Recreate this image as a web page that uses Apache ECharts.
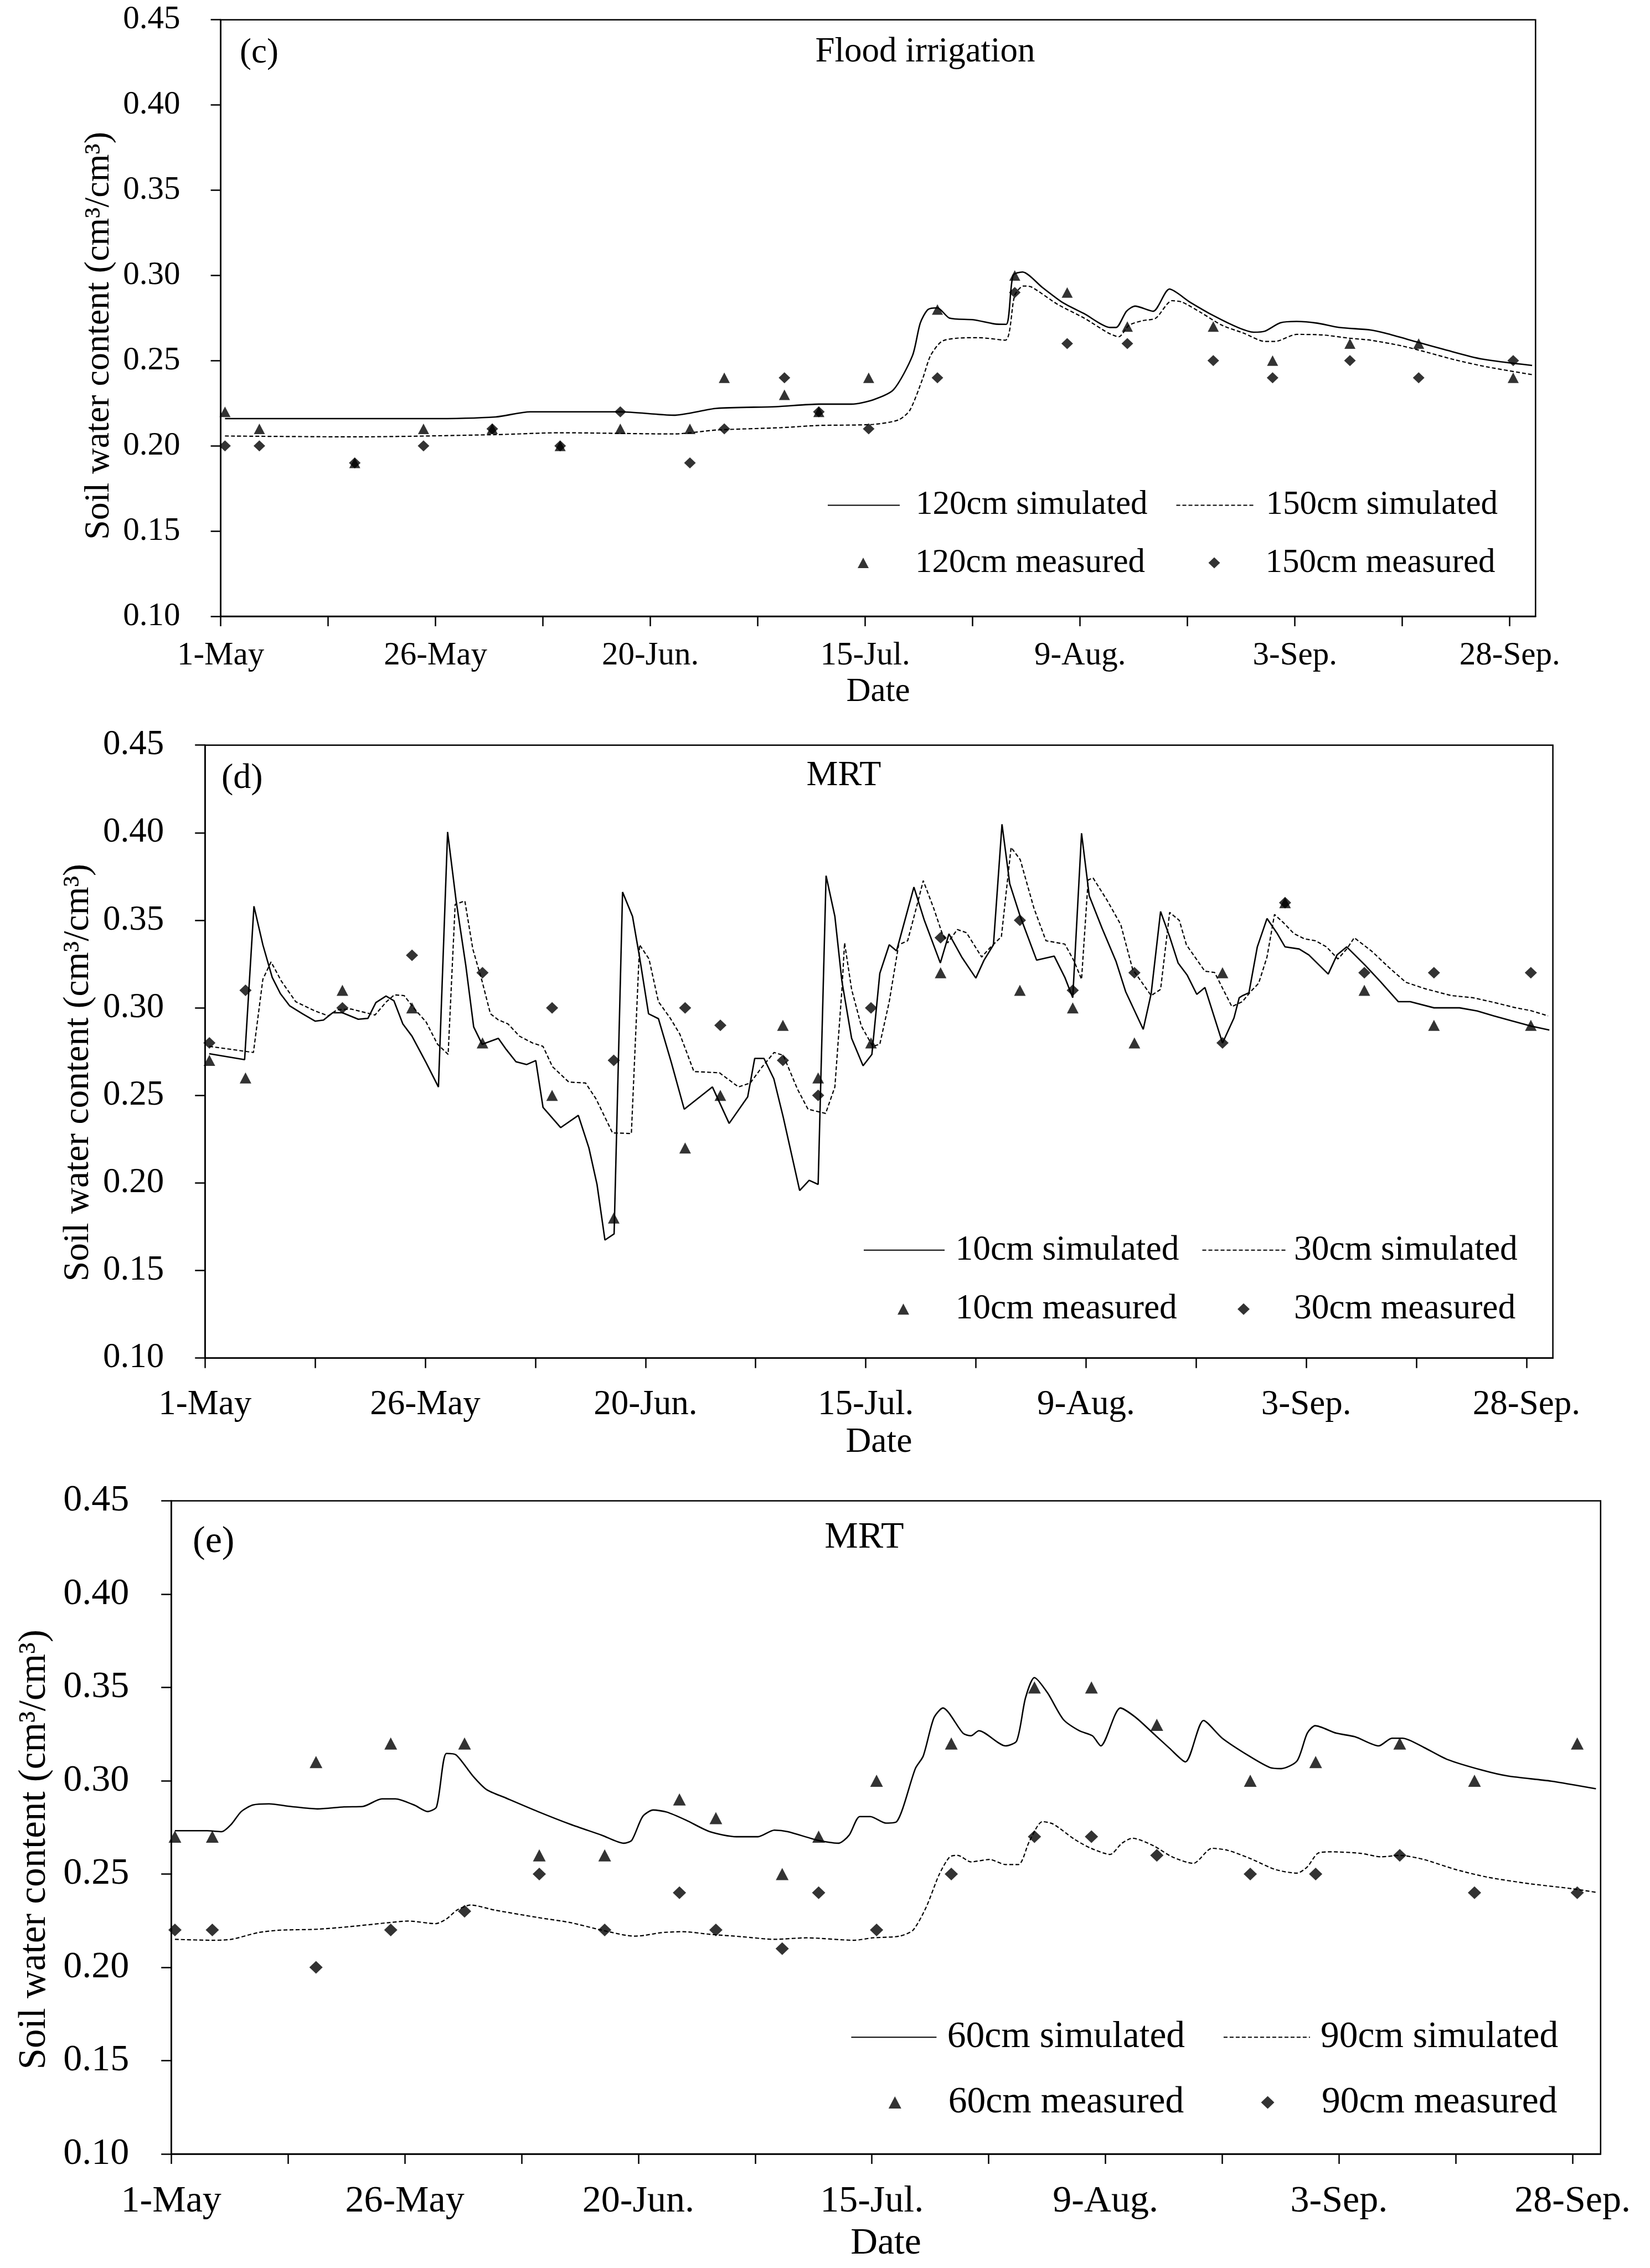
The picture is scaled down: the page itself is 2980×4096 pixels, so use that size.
<!DOCTYPE html>
<html><head><meta charset="utf-8">
<script src="https://cdn.jsdelivr.net/npm/echarts@6/dist/echarts.min.js"></script>
<style>html,body{margin:0;padding:0;background:#fff}#c{width:2980px;height:4096px}</style>
</head><body><div id="c"></div>
<script>
// ---------- axis data ----------
const tickDays = [0,12.5,25,37.5,50,62.5,75,87.5,100,112.5,125,137.5,150];
const labelDays = [0,25,50,75,100,125,150];
const dateLabels = ['1-May','26-May','20-Jun.','15-Jul.','9-Aug.','3-Sep.','28-Sep.'];

// ---------- panel (c) Flood irrigation ----------
const cMeasDays = [0.5,4.5,15.6,23.6,31.6,39.5,46.5,54.6,58.6,65.6,69.6,75.4,83.4,92.4,98.5,105.5,115.5,122.4,131.4,139.4,150.4];
const c120Meas = [0.22,0.21,0.19,0.21,0.21,0.20,0.21,0.21,0.24,0.23,0.22,0.24,0.28,0.30,0.29,0.27,0.27,0.25,0.26,0.26,0.24];
const c150Meas = [0.20,0.20,0.19,0.20,0.21,0.20,0.22,0.19,0.21,0.24,0.22,0.21,0.24,0.29,0.26,0.26,0.25,0.24,0.25,0.24,0.25];
const c120Sim = [[0.5,0.216],[12,0.216],[24,0.216],[32,0.217],[36,0.220],[43,0.220],[46.5,0.220],[52.7,0.218],[57.7,0.222],[64.6,0.223],[69.6,0.2245],[73.4,0.2245],[75.9,0.227],[78.3,0.233],[80.5,0.253],[81.4,0.272],[82.3,0.280],[83.4,0.281],[84.8,0.275],[87.6,0.274],[90,0.2716],[91.4,0.2713],[92.2,0.300],[93.3,0.302],[95.6,0.293],[98,0.284],[100.5,0.2775],[103.5,0.2695],[104.2,0.2695],[105.4,0.279],[106.4,0.282],[108.5,0.279],[110.4,0.292],[112.8,0.2843],[115.6,0.2762],[118.4,0.2694],[120.2,0.2667],[121.5,0.2673],[123.3,0.2722],[125.2,0.273],[127.6,0.272],[130.1,0.2695],[133.8,0.268],[135.6,0.266],[139.3,0.2608],[142.4,0.2565],[146.7,0.251],[152.6,0.2472]];
const c150Sim = [[0.5,0.2058],[15.7,0.2053],[32,0.2066],[39.5,0.2077],[52.7,0.207],[57.7,0.2093],[65.2,0.2107],[69.6,0.212],[75.9,0.2126],[78.9,0.2153],[80.2,0.221],[81.7,0.2397],[82.6,0.253],[83.9,0.2613],[85.7,0.2632],[88.2,0.2635],[91.3,0.262],[92.4,0.2884],[93.4,0.2938],[94.3,0.2933],[97.4,0.283],[100.5,0.2749],[103.3,0.2662],[104.5,0.264],[105.7,0.2708],[107.3,0.2735],[108.8,0.2749],[110.7,0.2852],[111.9,0.2843],[114.1,0.2781],[116.5,0.2708],[119,0.2662],[121.5,0.2613],[122.7,0.2613],[125.2,0.2654],[128.2,0.2651],[131.3,0.2632],[133.8,0.262],[137.5,0.2586],[140.6,0.2546],[143.6,0.2505],[147.3,0.2464],[152.6,0.2418]];

// ---------- panel (d) MRT 10/30 cm ----------
const dMeasDays = [0.5,4.6,15.6,23.5,31.5,39.4,46.4,54.5,58.5,65.6,69.6,75.6,83.5,92.5,98.5,105.5,115.5,122.6,131.6,139.5,150.5];
const d10Meas = [0.27,0.26,0.31,0.30,0.28,0.25,0.18,0.22,0.25,0.29,0.26,0.28,0.32,0.31,0.30,0.28,0.32,0.36,0.31,0.29,0.29];
const d30Meas = [0.28,0.31,0.30,0.33,0.32,0.30,0.27,0.30,0.29,0.27,0.25,0.30,0.34,0.35,0.31,0.32,0.28,0.36,0.32,0.32,0.32];
const d10Sim = [[0.48,0.2738],[4.5,0.2704],[5.56,0.358],[6.57,0.336],[7.63,0.3174],[8.56,0.3081],[9.6,0.3012],[11.07,0.2966],[12.5,0.2924],[13.45,0.293],[14.5,0.2972],[15.6,0.2972],[17.4,0.2935],[18.5,0.294],[19.4,0.303],[20.55,0.3067],[21.45,0.304],[22.46,0.2908],[23.5,0.2838],[25.1,0.2687],[26.5,0.2548],[27.54,0.4004],[28.5,0.3614],[29.6,0.3244],[30.5,0.2891],[31.46,0.2792],[33.3,0.2826],[34.2,0.2762],[35.3,0.2692],[36.5,0.2676],[37.55,0.2699],[38.37,0.2432],[40.37,0.2316],[42.38,0.2386],[43.58,0.22],[44.5,0.1992],[45.4,0.1674],[46.44,0.1709],[47.4,0.3661],[48.53,0.3522],[49.33,0.329],[50.35,0.2966],[51.47,0.2938],[52.94,0.2687],[54.4,0.2421],[57.6,0.2548],[59.5,0.234],[61.6,0.2491],[62.4,0.2711],[63.45,0.2711],[64.57,0.2595],[65.64,0.2375],[67.5,0.1957],[68.58,0.2015],[69.6,0.1992],[70.5,0.3754],[71.5,0.3522],[72.3,0.3151],[73.4,0.2826],[74.7,0.2669],[75.7,0.2734],[76.6,0.3197],[77.67,0.336],[78.5,0.3325],[80.47,0.3689],[81.66,0.3499],[83.47,0.3256],[84.45,0.3422],[85.9,0.329],[87.5,0.317],[88.43,0.3272],[89.5,0.336],[90.47,0.4048],[91.35,0.3708],[92.54,0.3522],[94.4,0.3272],[96.4,0.3295],[97.6,0.3174],[98.5,0.3058],[99.5,0.3997],[100.37,0.364],[101.83,0.3454],[103.4,0.3267],[104.5,0.3093],[106.5,0.2877],[107.4,0.3081],[108.47,0.355],[109.5,0.3406],[110.46,0.3256],[111.5,0.3186],[112.58,0.3077],[113.5,0.3116],[115.5,0.2799],[116.8,0.2942],[117.4,0.3058],[117.8,0.307],[118.5,0.3086],[119.45,0.3348],[120.55,0.351],[121.65,0.3429],[122.6,0.3348],[124.2,0.3336],[125.3,0.3302],[127.5,0.3193],[128.5,0.3302],[129.6,0.3348],[131.67,0.3244],[133.4,0.3151],[135.46,0.3035],[136.8,0.3035],[139.5,0.3],[142.4,0.3],[144.4,0.2982],[146.3,0.2954],[148.3,0.2926],[150.5,0.2896],[152.6,0.2873]];
const d30Sim = [[0.48,0.278],[5.5,0.2745],[6.57,0.3163],[7.5,0.3262],[8.7,0.315],[10.3,0.3035],[12.4,0.2984],[14,0.2954],[15,0.2989],[16.6,0.2993],[19.3,0.2959],[20.6,0.3035],[21.5,0.3074],[22.6,0.307],[23.8,0.2993],[25.1,0.2919],[26.4,0.2792],[27.6,0.2734],[28.4,0.3591],[29.5,0.361],[30.4,0.3336],[31.46,0.3151],[32.4,0.2966],[33.3,0.2931],[34.4,0.2908],[35.7,0.2838],[37.2,0.2799],[38.37,0.278],[39.44,0.2664],[41.3,0.2576],[43.2,0.2571],[44.4,0.2479],[46.26,0.2286],[48.4,0.2282],[49.33,0.336],[50.4,0.3279],[51.47,0.3035],[52.8,0.2942],[53.9,0.285],[55.5,0.2636],[58.4,0.2629],[60.56,0.2548],[61.9,0.2571],[63.2,0.266],[64.6,0.2745],[65.64,0.2729],[67.25,0.2536],[68.45,0.2421],[70.45,0.2397],[71.5,0.2548],[72.3,0.3105],[72.6,0.3371],[73.4,0.3105],[74.5,0.2896],[75.8,0.278],[76.6,0.2792],[77.67,0.3035],[78.74,0.336],[79.76,0.3383],[80.73,0.3568],[81.53,0.3726],[82.72,0.3568],[83.65,0.3429],[84.3,0.3371],[85.4,0.3447],[86.44,0.3429],[88.16,0.329],[89.2,0.3348],[90.4,0.3406],[91.5,0.3916],[92.54,0.3846],[94.1,0.3568],[95.46,0.3383],[97.6,0.3364],[98.65,0.3267],[99.5,0.3163],[100.25,0.373],[100.8,0.3742],[102.4,0.3614],[103.95,0.3475],[105.3,0.322],[107.4,0.307],[108.47,0.3105],[109.5,0.3545],[110.6,0.3499],[111.4,0.336],[113.5,0.3209],[114.6,0.3202],[116.56,0.3007],[117.75,0.3035],[118.7,0.3093],[119.6,0.314],[120.55,0.329],[121.4,0.3533],[122.4,0.3487],[123.6,0.3424],[124.8,0.3394],[126.05,0.3383],[127.3,0.3348],[128.6,0.3279],[129.6,0.3336],[130.45,0.34],[132.4,0.3325],[134.36,0.3232],[136.3,0.3146],[138.5,0.3109],[141.45,0.307],[143.9,0.3058],[146.3,0.3031],[148.8,0.3],[150.5,0.2984],[152.45,0.2954]];

// ---------- panel (e) MRT 60/90 cm ----------
const eMeasDays = [0.4,4.4,15.5,23.5,31.4,39.4,46.4,54.4,58.3,65.4,69.3,75.5,83.5,92.4,98.5,105.5,115.5,122.5,131.5,139.5,150.5];
const e60Meas = [0.27,0.27,0.31,0.32,0.32,0.26,0.26,0.29,0.28,0.25,0.27,0.30,0.32,0.35,0.35,0.33,0.30,0.31,0.32,0.30,0.32];
const e90Meas = [0.22,0.22,0.20,0.22,0.23,0.25,0.22,0.24,0.22,0.21,0.24,0.22,0.25,0.27,0.27,0.26,0.25,0.25,0.26,0.24,0.24];
const e60Sim = [[0.4,0.2732],[3.85,0.2732],[5.4,0.2727],[6.44,0.2767],[7.5,0.2835],[8.75,0.287],[10.47,0.2876],[12.8,0.2862],[15.65,0.2849],[18.5,0.286],[20.5,0.2862],[22.55,0.2903],[24,0.2903],[26,0.287],[27.45,0.2835],[28.4,0.286],[29.46,0.3146],[30.5,0.3138],[32.3,0.3025],[33.77,0.2952],[35.8,0.2908],[39.24,0.2835],[42.7,0.2767],[46.1,0.2708],[48.45,0.2665],[49.3,0.2681],[50.46,0.2808],[51.6,0.2843],[53.05,0.2832],[55.1,0.2789],[57.65,0.2727],[60.5,0.27],[62.8,0.27],[64.56,0.2735],[66,0.2727],[69.2,0.2681],[71.43,0.2665],[72.56,0.2708],[73.7,0.2808],[74.83,0.2808],[76.5,0.2773],[77.66,0.2781],[79.65,0.3065],[80.5,0.3133],[81.63,0.3336],[82.6,0.339],[84.75,0.3255],[85.6,0.3241],[86.45,0.3268],[89.3,0.3187],[90.5,0.3214],[91.44,0.3444],[92.4,0.3553],[93.8,0.3471],[95.5,0.3328],[97.2,0.3268],[98.6,0.3241],[99.5,0.3187],[101.6,0.339],[103.2,0.3341],[105.2,0.325],[106.86,0.3174],[108.56,0.3101],[110.5,0.3323],[112.5,0.3228],[115.36,0.3133],[117.6,0.3071],[118.8,0.3065],[120.5,0.3106],[121.6,0.3255],[122.45,0.3295],[124.7,0.3255],[126.7,0.3236],[129.25,0.3187],[130.67,0.3228],[131.8,0.3228],[134.07,0.3179],[136.6,0.3114],[140.3,0.3057],[143.1,0.3025],[147.7,0.2998],[152.5,0.2957]];
const e90Sim = [[0.4,0.215],[4.4,0.2145],[6.44,0.215],[9.3,0.2186],[11.6,0.2199],[15.65,0.2204],[19.1,0.2218],[23.4,0.224],[25.4,0.2248],[28.3,0.2234],[29.46,0.2259],[30.6,0.2307],[32.05,0.2334],[34.6,0.2307],[39.24,0.2267],[42.7,0.224],[46.1,0.2199],[49.6,0.2167],[50.75,0.2172],[52.5,0.2186],[54.8,0.2191],[57.65,0.2177],[61.1,0.2164],[64.56,0.215],[68,0.2158],[73.1,0.2145],[75.1,0.2158],[77.95,0.2167],[79.4,0.2199],[80.8,0.2321],[82.2,0.2497],[83.33,0.2592],[84.2,0.26],[85.6,0.2565],[87.6,0.2578],[89.3,0.2551],[90.7,0.2551],[91.84,0.2673],[93.25,0.2781],[94.4,0.2768],[96.66,0.2687],[98.36,0.264],[100.5,0.2605],[101.76,0.2665],[102.9,0.2692],[105.16,0.2651],[107.14,0.2592],[109.4,0.2557],[111.4,0.2638],[113.1,0.2627],[115.36,0.2586],[118.2,0.2524],[120.5,0.2505],[121.6,0.2538],[122.73,0.2611],[124.15,0.2619],[127.3,0.2611],[129.5,0.2592],[131.5,0.26],[134.07,0.2578],[137.5,0.2524],[140.9,0.2483],[145.4,0.2448],[150,0.2421],[152.5,0.2402]];

// ---------- layout (pixels in the 2980x4096 window) ----------
const FONT = 'Liberation Serif';
const panels = [
  { grid:{left:398.6, top:35.7, width:2374.7, height:1077.4},
    fs:{tick:59, txt:61, ytitle:64, note:63}, mark:20, smooth:0.25,
    xLabelMargin:42, xNameGap:106, yLabelMargin:73, yNameGap:182, yNamePad:64,
    note:'(c)', notePos:[433,96], title:'Flood irrigation', titlePos:[1671,94],
    names:['120cm simulated','150cm simulated','120cm measured','150cm measured'],
    sims:[c120Sim,c150Sim], measDays:cMeasDays, meas:[c120Meas,c150Meas],
    leg:{rows:[912.4,1016.5], lines:[[1494,130,24],[2123.5,142.5,14.5]], marks:[[1549,79],[2182.5,77]]} },
  { grid:{left:370.2, top:1345.7, width:2434.4, height:1107},
    fs:{tick:63, txt:63.5, ytitle:65.5, note:64}, mark:21, smooth:false,
    xLabelMargin:53, xNameGap:121, yLabelMargin:74, yNameGap:192, yNamePad:76,
    note:'(d)', notePos:[400,1406], title:'MRT', titlePos:[1524,1401],
    names:['10cm simulated','30cm simulated','10cm measured','30cm measured'],
    sims:[d10Sim,d30Sim], measDays:dMeasDays, meas:[d10Meas,d30Meas],
    leg:{rows:[2257.6,2364], lines:[[1559,146,14.6],[2170.5,150,10.5]], marks:[[1621,78.6],[2235,75]]} },
  { grid:{left:309.2, top:2710.6, width:2581.6, height:1179.3},
    fs:{tick:68, txt:67.5, ytitle:69, note:68}, mark:23, smooth:0.25,
    xLabelMargin:52, xNameGap:129, yLabelMargin:76, yNameGap:212, yNamePad:80,
    note:'(e)', notePos:[348,2785], title:'MRT', titlePos:[1561,2777],
    names:['60cm simulated','90cm simulated','60cm measured','90cm measured'],
    sims:[e60Sim,e90Sim], measDays:eMeasDays, meas:[e60Meas,e90Meas],
    leg:{rows:[3679,3796.7], lines:[[1536.4,154,14.4],[2208.9,156,14.1]], marks:[[1604.8,80],[2277.5,80.5]]} }
];

const option = { animation:false, backgroundColor:'#fff', grid:[], xAxis:[], yAxis:[], series:[], legend:[], graphic:[] };
const axisCol = '#000';
panels.forEach((p, i) => {
  option.grid.push(Object.assign({show:true, borderColor:'#000', borderWidth:2.5, containLabel:false}, p.grid));
  option.xAxis.push({
    type:'value', gridIndex:i, min:0, max:153,
    axisLine:{show:true, onZero:false, lineStyle:{color:axisCol, width:2.5}},
    axisTick:{show:true, inside:false, length:18, customValues:tickDays, lineStyle:{color:axisCol, width:2.5}},
    axisLabel:{show:true, customValues:labelDays, margin:p.xLabelMargin, fontSize:p.fs.tick, fontFamily:FONT, color:'#000', lineHeight:p.fs.tick,
      formatter:v => { const k = labelDays.indexOf(v); return k >= 0 ? dateLabels[k] : ''; } },
    splitLine:{show:false},
    name:'Date', nameLocation:'middle', nameGap:p.xNameGap,
    nameTextStyle:{fontSize:p.fs.txt, fontFamily:FONT, color:'#000', lineHeight:p.fs.txt}
  });
  option.yAxis.push({
    type:'value', gridIndex:i, min:0.1, max:0.45, interval:0.05,
    axisLine:{show:true, lineStyle:{color:axisCol, width:2.5}},
    axisTick:{show:true, inside:false, length:18, lineStyle:{color:axisCol, width:2.5}},
    axisLabel:{margin:p.yLabelMargin, fontSize:p.fs.tick, fontFamily:FONT, color:'#000', formatter:v => v.toFixed(2)},
    splitLine:{show:false},
    name:'Soil water content (cm³/cm³)', nameLocation:'middle', nameGap:p.yNameGap, nameRotate:90,
    nameTextStyle:{fontSize:p.fs.ytitle, fontFamily:FONT, color:'#000', lineHeight:p.fs.ytitle, padding:[0,p.yNamePad,0,0]}
  });
  p.sims.forEach((s, k) => {
    option.series.push({
      type:'line', name:p.names[k], xAxisIndex:i, yAxisIndex:i, data:s, symbol:'none', showSymbol:false,
      smooth:p.smooth, z:2,
      lineStyle:{color:'#000', width:k === 0 ? 2.6 : 2.2, type:k === 0 ? 'solid' : [7,4]},
      itemStyle:{color:'#000'}
    });
  });
  const syms = ['triangle','diamond'];
  p.meas.forEach((m, k) => {
    option.series.push({
      type:'scatter', name:p.names[2+k], xAxisIndex:i, yAxisIndex:i, z:3,
      data:p.measDays.map((d, j) => [d, m[j]]),
      symbol:syms[k], symbolSize:k === 0 ? [p.mark, p.mark - 1] : [p.mark + 1, p.mark],
      itemStyle:{color:'#000'}
    });
  });
  // legends: one per entry so each sits where the reference puts it
  p.leg.lines.forEach((l, k) => {
    option.legend.push({
      data:[p.names[k]], left:l[0], top:p.leg.rows[0] - p.fs.txt / 2, padding:0, selectedMode:false,
      itemWidth:l[1], itemHeight:4, orient:'horizontal',
      itemStyle:{opacity:0},
      textStyle:{fontSize:p.fs.txt, fontFamily:FONT, color:'#000', lineHeight:p.fs.txt, padding:[0,0,0,l[2]]}
    });
  });
  p.leg.marks.forEach((l, k) => {
    const w = k === 0 ? p.mark : p.mark + 1, h = k === 0 ? p.mark - 1 : p.mark;
    option.legend.push({
      data:[{name:p.names[2+k], icon:syms[k]}], left:l[0], top:p.leg.rows[1] - p.fs.txt / 2, padding:0, selectedMode:false,
      itemWidth:w, itemHeight:h, orient:'horizontal',
      textStyle:{fontSize:p.fs.txt, fontFamily:FONT, color:'#000', lineHeight:p.fs.txt, padding:[0,0,0,l[1]]}
    });
  });
  option.graphic.push({type:'text', x:p.notePos[0], y:p.notePos[1], z:10,
    style:{text:p.note, fontSize:p.fs.note, fontFamily:FONT, fill:'#000', align:'left', verticalAlign:'middle'}});
  option.graphic.push({type:'text', x:p.titlePos[0], y:p.titlePos[1], z:10,
    style:{text:p.title, fontSize:p.fs.note, fontFamily:FONT, fill:'#000', align:'center', verticalAlign:'middle'}});
});

const chart = echarts.init(document.getElementById('c'), null, {renderer:'canvas'});
chart.setOption(option);
</script>
</body></html>
